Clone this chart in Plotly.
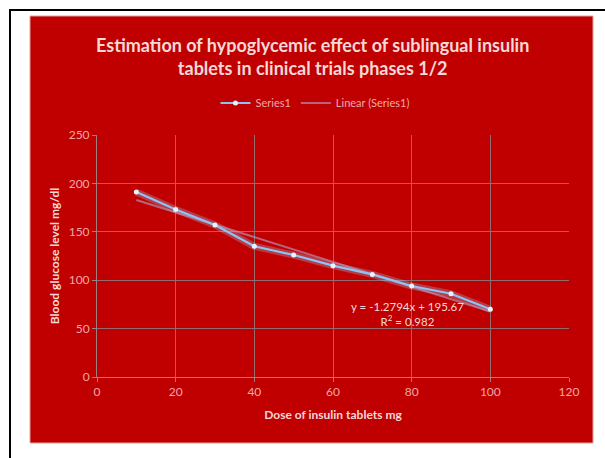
import plotly.graph_objects as go

dose = [10, 20, 30, 40, 50, 60, 70, 80, 90, 100]
glucose = [191, 173, 157, 135, 126, 115, 106, 94, 86, 70]
slope = -1.2794
intercept = 195.67
trend_x = [10, 100]
trend_y = [slope * v + intercept for v in trend_x]
x_ticks = [0, 20, 40, 60, 80, 100, 120]
y_ticks = [0, 50, 100, 150, 200, 250]

W, H = 605, 458
L, R, T, B = 97, 569, 135, 377  # plot area pixel bounds

def px(x):
    return (x - L) / (R - L)

def py(y):
    return (B - y) / (B - T)

RED = "#c00000"
TICK = "#f0a8a8"
TITLE = "#f5d8d8"
GRID = "#946a6a"
FONT = "Lato, Open Sans, sans-serif"

fig = go.Figure()
# glow underlay
fig.add_trace(go.Scatter(x=dose, y=glucose, mode="lines",
                         line=dict(color="rgba(160,215,255,0.28)", width=7),
                         hoverinfo="skip", showlegend=False))
fig.add_trace(go.Scatter(x=trend_x, y=trend_y, mode="lines", name="Linear (Series1)",
                         line=dict(color="rgba(180,165,205,0.6)", width=2),
                         legendrank=2))
fig.add_trace(go.Scatter(x=dose, y=glucose, mode="lines+markers", name="Series1",
                         line=dict(color="#8cc4f5", width=2.2),
                         marker=dict(size=5, color="#e6f4ff", line=dict(width=0)),
                         legendrank=1))

shapes = [
    dict(type="rect", xref="paper", yref="paper", layer="below",
         x0=px(30), x1=px(593), y0=py(443), y1=py(16),
         fillcolor=RED, line=dict(color="#e8a0a0", width=1)),
    dict(type="line", xref="paper", yref="paper",
         x0=px(9), x1=px(605), y0=py(10), y1=py(10),
         line=dict(color="black", width=2)),
    dict(type="line", xref="paper", yref="paper",
         x0=px(10), x1=px(10), y0=py(9), y1=py(458),
         line=dict(color="black", width=2)),
]

annotations = [
    dict(text="Estimation of hypoglycemic effect of sublingual insulin<br>tablets in clinical trials phases 1/2",
         xref="paper", yref="paper", x=px(312), y=py(56), xanchor="center", yanchor="middle",
         showarrow=False, font=dict(family=FONT, size=18, color=TITLE, weight="bold"),
         align="center"),
    dict(text="y = -1.2794x + 195.67<br>R<sup>2</sup> = 0.982",
         xref="paper", yref="paper", x=px(407), y=py(314), xanchor="center", yanchor="middle",
         showarrow=False, font=dict(family=FONT, size=11.5, color=TITLE), align="center"),
]

axis_common = dict(showgrid=True, gridcolor=GRID, gridwidth=1,
                   showline=True, linecolor="#a08080", linewidth=1,
                   ticks="outside", ticklen=4, tickcolor="#a08080",
                   tickfont=dict(family=FONT, size=12, color=TICK), zeroline=False)

fig.update_layout(
    width=W, height=H,
    margin=dict(l=L, r=W - R, t=T, b=H - B),
    paper_bgcolor="white", plot_bgcolor=RED,
    shapes=shapes, annotations=annotations,
    showlegend=True,
    legend=dict(orientation="h", x=px(315), y=py(103), xanchor="center", yanchor="middle",
                font=dict(family=FONT, size=11, color=TICK), bgcolor="rgba(0,0,0,0)",
                itemwidth=30, traceorder="normal"),
    xaxis=dict(range=[0, 120], tickvals=x_ticks, **axis_common,
               title=dict(text="Dose of insulin tablets mg", standoff=12,
                          font=dict(family=FONT, size=12, color=TITLE, weight="bold"))),
    yaxis=dict(range=[0, 250], tickvals=y_ticks, **axis_common,
               title=dict(text="Blood glucose level mg/dl", standoff=6,
                          font=dict(family=FONT, size=12, color=TITLE, weight="bold"))),
)

fig.write_html("out.html")
